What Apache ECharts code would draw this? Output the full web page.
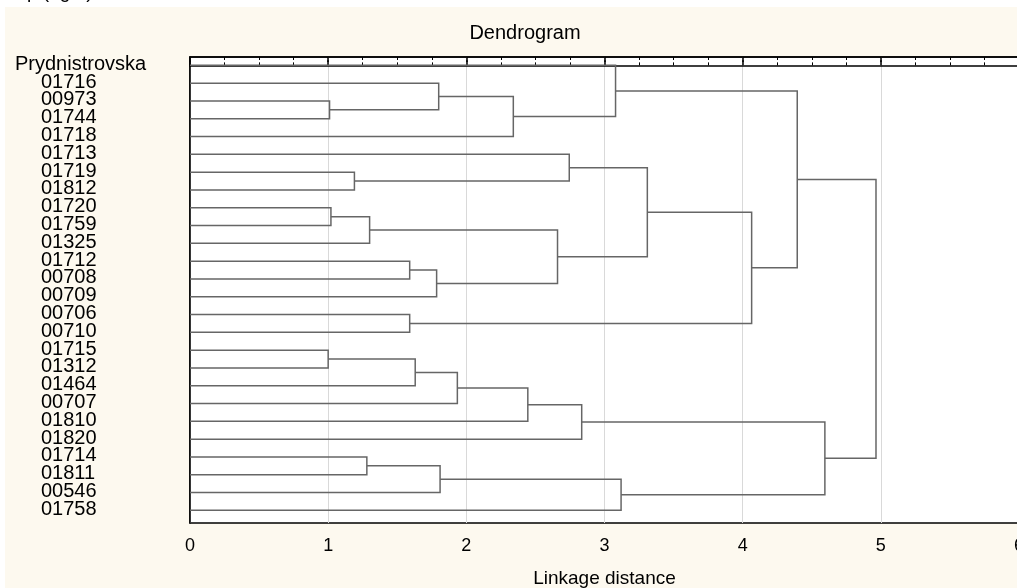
<!DOCTYPE html>
<html>
<head>
<meta charset="utf-8">
<script src="https://cdn.jsdelivr.net/npm/echarts@6/dist/echarts.min.js"></script>
<style>
    html, body { margin: 0; padding: 0; background: #ffffff; }
    #char1 { width: 1017px; height: 588px; }
</style>
</head>
<body>
<div id="char1"></div>
<script>
// leaves, top to bottom
var leaves = ['Prydnistrovska', '01716', '00973', '01744', '01718', '01713', '01719', '01812',
    '01720', '01759', '01325', '01712', '00708', '00709', '00706', '00710', '01715', '01312',
    '01464', '00707', '01810', '01820', '01714', '01811', '00546', '01758'];

// merges: node ids 0..25 are leaves, 26.. are clusters in this order
var mergeA = [2, 16, 8, 6, 22, 28, 11, 14, 27, 32, 1, 30, 34, 36, 38, 31, 5, 40, 0, 37, 42, 46, 44, 43, 48];
var mergeB = [3, 17, 9, 7, 23, 10, 12, 15, 18, 13, 26, 24, 19, 4, 20, 35, 29, 21, 39, 25, 41, 33, 47, 45, 49];
var mergeH = [1.01, 1.00, 1.02, 1.19, 1.28, 1.30, 1.59, 1.59, 1.63, 1.785, 1.80, 1.81, 1.935, 2.34,
    2.445, 2.66, 2.745, 2.835, 3.08, 3.12, 3.31, 4.065, 4.395, 4.595, 4.965];

var xTicks = [0, 1, 2, 3, 4, 5, 6];

function char1() {
    var myChart = echarts.init(document.getElementById('char1'));

    var nodeY = [];
    var nodeH = [];
    var leafPts = [];
    for (var i = 0; i < leaves.length; i++) {
        nodeY.push(i);
        nodeH.push(0);
        leafPts.push({ value: [0, i], name: leaves[i] });
    }
    var links = [];
    for (var m = 0; m < mergeH.length; m++) {
        var a = mergeA[m], b = mergeB[m], h = mergeH[m];
        links.push({
            coords: [[nodeH[a], nodeY[a]], [h, nodeY[a]], [h, nodeY[b]], [nodeH[b], nodeY[b]]]
        });
        nodeY.push((nodeY[a] + nodeY[b]) / 2);
        nodeH.push(h);
    }

    var axisBase = {
        type: 'value',
        min: 0,
        max: 6,
        interval: 1,
        axisLine: { show: true, lineStyle: { color: '#000', width: 1.5 } },
        axisTick: { show: true, inside: true, length: 5, lineStyle: { color: '#000', width: 1.5 } },
        minorTick: { show: true, splitNumber: 4, length: 3, lineStyle: { color: '#000', width: 1 } }
    };

    option = {
        backgroundColor: '#fdf9ef',
        animation: false,
        textStyle: { fontFamily: 'Liberation Sans, Arial, sans-serif' },
        title: {
            text: 'Dendrogram',
            left: 520,
            top: 18,
            textAlign: 'center',
            textStyle: { fontSize: 20, fontWeight: 'normal', color: '#000', fontFamily: 'Liberation Sans' }
        },
        graphic: [
            { type: 'rect', left: 0, top: 0, shape: { width: 1017, height: 7 }, style: { fill: '#fff' }, z: 100 },
            { type: 'rect', left: 0, top: 0, shape: { width: 5, height: 588 }, style: { fill: '#fff' }, z: 100 },
            {
                type: 'text', x: -11, y: 2, z: 101,
                style: { text: 'group (right)', fontSize: 19, fontFamily: 'Liberation Sans', fill: '#000', verticalAlign: 'bottom' }
            }
        ],
        grid: {
            left: 190,
            top: 57,
            width: 829,
            height: 466,
            outerBoundsMode: 'none',
            containLabel: false,
            show: true,
            backgroundColor: '#fff',
            borderColor: '#000',
            borderWidth: 1.5
        },
        xAxis: [
            Object.assign({}, axisBase, {
                position: 'bottom',
                name: 'Linkage distance',
                nameLocation: 'middle',
                nameGap: 46,
                nameTextStyle: { fontSize: 19, color: '#000' },
                axisLabel: {
                    fontSize: 18,
                    color: '#000',
                    margin: 14,
                    customValues: xTicks
                },
                splitLine: { show: true, lineStyle: { color: '#d9d9d9', width: 1 } }
            }),
            Object.assign({}, axisBase, {
                position: 'top',
                axisLabel: { show: false },
                splitLine: { show: false }
            })
        ],
        yAxis: {
            type: 'value',
            inverse: true,
            min: -0.47,
            max: 25.71,
            axisLine: { show: true, lineStyle: { color: '#000', width: 1.5 } },
            axisTick: { show: false },
            splitLine: { show: false },
            axisLabel: { show: false }
        },
        series: [
            {
                type: 'lines',
                coordinateSystem: 'cartesian2d',
                polyline: true,
                silent: true,
                lineStyle: { color: '#666', width: 1.5, opacity: 1 },
                data: links
            },
            {
                // leaf names, placed at each leaf row
                type: 'scatter',
                symbolSize: 0,
                silent: true,
                clip: false,
                itemStyle: { opacity: 1 },
                data: leafPts,
                label: {
                    show: true,
                    position: [-175, -1],
                    align: 'left',
                    verticalAlign: 'middle',
                    fontSize: 20,
                    color: '#000',
                    opacity: 1,
                    textBorderWidth: 0,
                    formatter: function (p) {
                        return isNaN(+p.name) ? p.name : '{n|' + p.name + '}';
                    },
                    rich: {
                        n: { fontSize: 20, color: '#000', textBorderWidth: 0, padding: [0, 0, 0, 26] }
                    }
                }
            }
        ]
    };
    myChart.setOption(option);
    window.addEventListener('resize', function () { myChart.resize(); })
}
char1();
</script>
</body>
</html>
